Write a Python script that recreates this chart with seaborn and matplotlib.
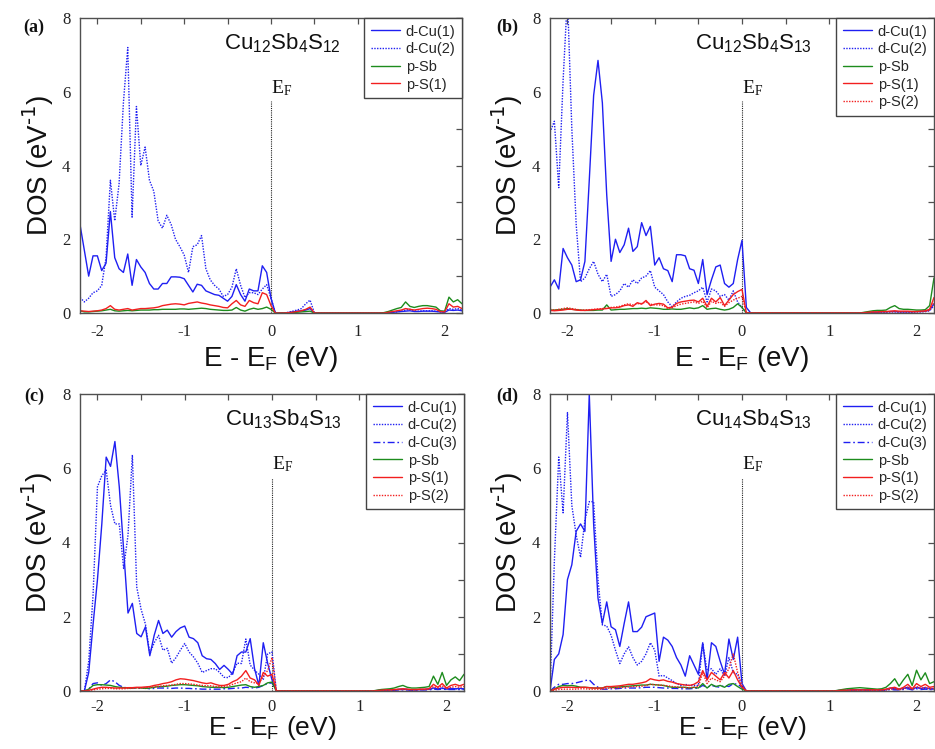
import numpy as np
import pandas as pd
import matplotlib
matplotlib.use("Agg")
import matplotlib.pyplot as plt
from matplotlib.ticker import MultipleLocator
import seaborn as sns

# Energy grid relative to the Fermi level (eV): -2.20 ... 2.20 in 0.05 steps
energy = np.round(np.arange(-2.20, 2.2001, 0.05), 2)

# ---------------- (a) Cu12Sb4S12 ----------------
a_dcu1 = [
    2.40, 1.70, 1.00, 1.55, 1.55, 1.15, 1.35, 2.75, 1.50, 1.20,
    1.10, 1.60, 0.75, 1.45, 1.25, 1.10, 0.80, 0.65, 0.65, 0.80,
    0.80, 0.98, 0.98, 0.97, 0.93, 0.75, 0.57, 0.78, 0.75, 0.60,
    0.55, 0.50, 0.48, 0.40, 0.32, 0.45, 0.77, 0.50, 0.32, 0.65,
    0.60, 0.60, 1.28, 1.10, 0.40, 0.00, 0.00, 0.00, 0.01, 0.03,
    0.05, 0.06, 0.08, 0.12, 0.00, 0.00, 0.00, 0.00, 0.00, 0.00,
    0.00, 0.00, 0.00, 0.00, 0.00, 0.00, 0.00, 0.00, 0.00, 0.00,
    0.00, 0.01, 0.02, 0.03, 0.04, 0.05, 0.06, 0.04, 0.04, 0.05,
    0.05, 0.05, 0.04, 0.03, 0.02, 0.08, 0.07, 0.08, 0.06,
]
a_dcu2 = [
    0.42, 0.30, 0.40, 0.55, 0.60, 0.75, 1.50, 3.60, 2.50, 3.50,
    5.70, 7.20, 2.60, 5.60, 4.00, 4.50, 3.60, 3.30, 2.50, 2.30,
    2.65, 2.40, 2.00, 1.80, 1.57, 1.10, 1.80, 1.85, 2.10, 1.20,
    0.90, 0.75, 0.65, 0.45, 0.50, 0.70, 1.20, 0.75, 0.42, 0.55,
    0.55, 0.50, 0.65, 0.77, 0.40, 0.00, 0.00, 0.00, 0.02, 0.05,
    0.08, 0.12, 0.25, 0.35, 0.00, 0.00, 0.00, 0.00, 0.00, 0.00,
    0.00, 0.00, 0.00, 0.00, 0.00, 0.00, 0.00, 0.00, 0.00, 0.00,
    0.00, 0.01, 0.02, 0.03, 0.05, 0.08, 0.10, 0.06, 0.05, 0.06,
    0.06, 0.06, 0.05, 0.03, 0.02, 0.12, 0.10, 0.12, 0.08,
]
a_psb = [
    0.06, 0.03, 0.03, 0.04, 0.05, 0.06, 0.08, 0.10, 0.06, 0.05,
    0.06, 0.07, 0.06, 0.07, 0.08, 0.08, 0.08, 0.09, 0.09, 0.10,
    0.10, 0.10, 0.10, 0.11, 0.11, 0.10, 0.11, 0.12, 0.13, 0.12,
    0.10, 0.09, 0.08, 0.07, 0.07, 0.08, 0.15, 0.08, 0.05, 0.10,
    0.13, 0.10, 0.12, 0.16, 0.10, 0.00, 0.00, 0.00, 0.00, 0.01,
    0.02, 0.03, 0.04, 0.05, 0.00, 0.00, 0.00, 0.00, 0.00, 0.00,
    0.00, 0.00, 0.00, 0.00, 0.00, 0.00, 0.00, 0.00, 0.00, 0.00,
    0.01, 0.04, 0.08, 0.12, 0.15, 0.30, 0.18, 0.15, 0.18, 0.20,
    0.20, 0.18, 0.16, 0.06, 0.05, 0.43, 0.30, 0.36, 0.25,
]
a_ps1 = [
    0.06, 0.05, 0.04, 0.05, 0.06, 0.08, 0.12, 0.20, 0.10, 0.08,
    0.10, 0.12, 0.08, 0.10, 0.12, 0.12, 0.13, 0.14, 0.16, 0.20,
    0.22, 0.24, 0.25, 0.24, 0.22, 0.26, 0.28, 0.30, 0.27, 0.25,
    0.22, 0.20, 0.18, 0.15, 0.14, 0.25, 0.34, 0.22, 0.18, 0.34,
    0.28, 0.25, 0.55, 0.50, 0.20, 0.00, 0.00, 0.00, 0.01, 0.02,
    0.04, 0.06, 0.10, 0.16, 0.00, 0.00, 0.00, 0.00, 0.00, 0.00,
    0.00, 0.00, 0.00, 0.00, 0.00, 0.00, 0.00, 0.00, 0.00, 0.00,
    0.00, 0.02, 0.04, 0.06, 0.08, 0.12, 0.10, 0.08, 0.10, 0.12,
    0.13, 0.12, 0.10, 0.04, 0.03, 0.25, 0.16, 0.18, 0.12,
]

# ---------------- (b) Cu12Sb4S13 ----------------
b_dcu1 = [
    0.70, 0.90, 0.65, 1.75, 1.50, 1.30, 0.85, 0.90, 1.40, 3.60,
    5.90, 6.85, 5.70, 3.20, 1.40, 2.00, 1.64, 1.85, 2.30, 1.67,
    1.80, 2.45, 2.10, 2.35, 1.30, 1.50, 1.20, 1.15, 0.85, 1.58,
    1.58, 1.55, 1.20, 1.16, 0.80, 1.45, 0.50, 0.90, 1.25, 1.30,
    0.80, 0.70, 0.80, 1.45, 1.97, 0.15, 0.00, 0.00, 0.00, 0.00,
    0.00, 0.00, 0.00, 0.00, 0.00, 0.00, 0.00, 0.00, 0.00, 0.00,
    0.00, 0.00, 0.00, 0.00, 0.00, 0.00, 0.00, 0.00, 0.00, 0.00,
    0.00, 0.00, 0.00, 0.01, 0.02, 0.02, 0.03, 0.03, 0.04, 0.04,
    0.03, 0.03, 0.03, 0.03, 0.04, 0.04, 0.05, 0.08, 0.25,
]
b_dcu2 = [
    4.90, 5.20, 3.40, 6.30, 8.60, 5.00, 2.40, 0.85, 0.95, 1.20,
    1.40, 1.05, 0.85, 1.05, 0.45, 0.50, 0.60, 0.80, 0.70, 0.90,
    0.80, 0.95, 1.00, 1.15, 0.70, 0.60, 0.50, 0.30, 0.17, 0.30,
    0.40, 0.45, 0.48, 0.55, 0.60, 0.70, 0.30, 0.65, 0.60, 0.45,
    0.50, 0.35, 0.60, 0.30, 0.15, 0.00, 0.00, 0.00, 0.00, 0.00,
    0.00, 0.00, 0.00, 0.00, 0.00, 0.00, 0.00, 0.00, 0.00, 0.00,
    0.00, 0.00, 0.00, 0.00, 0.00, 0.00, 0.00, 0.00, 0.00, 0.00,
    0.00, 0.00, 0.00, 0.01, 0.01, 0.01, 0.02, 0.02, 0.03, 0.03,
    0.02, 0.02, 0.02, 0.02, 0.03, 0.03, 0.04, 0.06, 0.20,
]
b_psb = [
    0.08, 0.08, 0.09, 0.10, 0.12, 0.10, 0.09, 0.08, 0.07, 0.07,
    0.07, 0.08, 0.08, 0.22, 0.08, 0.09, 0.10, 0.10, 0.11, 0.12,
    0.12, 0.13, 0.12, 0.14, 0.13, 0.12, 0.10, 0.10, 0.11, 0.10,
    0.10, 0.12, 0.14, 0.12, 0.14, 0.20, 0.10, 0.12, 0.13, 0.10,
    0.08, 0.10, 0.15, 0.25, 0.15, 0.00, 0.00, 0.00, 0.00, 0.00,
    0.00, 0.00, 0.00, 0.00, 0.00, 0.00, 0.00, 0.00, 0.00, 0.00,
    0.00, 0.00, 0.00, 0.00, 0.00, 0.00, 0.00, 0.00, 0.00, 0.00,
    0.00, 0.00, 0.02, 0.04, 0.06, 0.07, 0.07, 0.08, 0.15, 0.20,
    0.12, 0.10, 0.10, 0.09, 0.08, 0.08, 0.09, 0.20, 0.95,
]
b_ps1 = [
    0.07, 0.06, 0.07, 0.08, 0.10, 0.10, 0.08, 0.07, 0.07, 0.08,
    0.09, 0.10, 0.11, 0.12, 0.14, 0.14, 0.16, 0.20, 0.22, 0.18,
    0.28, 0.24, 0.34, 0.20, 0.24, 0.26, 0.24, 0.14, 0.16, 0.26,
    0.30, 0.32, 0.34, 0.35, 0.30, 0.40, 0.18, 0.40, 0.30, 0.42,
    0.20, 0.35, 0.50, 0.58, 0.64, 0.00, 0.00, 0.00, 0.00, 0.00,
    0.00, 0.00, 0.00, 0.00, 0.00, 0.00, 0.00, 0.00, 0.00, 0.00,
    0.00, 0.00, 0.00, 0.00, 0.00, 0.00, 0.00, 0.00, 0.00, 0.00,
    0.00, 0.00, 0.01, 0.02, 0.03, 0.03, 0.04, 0.04, 0.05, 0.06,
    0.05, 0.05, 0.05, 0.04, 0.04, 0.05, 0.06, 0.10, 0.42,
]
b_ps2 = [
    0.10, 0.08, 0.10, 0.12, 0.14, 0.12, 0.10, 0.08, 0.08, 0.09,
    0.10, 0.11, 0.12, 0.13, 0.15, 0.16, 0.18, 0.22, 0.25, 0.22,
    0.25, 0.26, 0.30, 0.24, 0.22, 0.22, 0.20, 0.12, 0.14, 0.20,
    0.24, 0.26, 0.28, 0.30, 0.26, 0.32, 0.14, 0.32, 0.26, 0.30,
    0.18, 0.28, 0.35, 0.40, 0.45, 0.00, 0.00, 0.00, 0.00, 0.00,
    0.00, 0.00, 0.00, 0.00, 0.00, 0.00, 0.00, 0.00, 0.00, 0.00,
    0.00, 0.00, 0.00, 0.00, 0.00, 0.00, 0.00, 0.00, 0.00, 0.00,
    0.00, 0.00, 0.00, 0.01, 0.02, 0.02, 0.03, 0.03, 0.03, 0.04,
    0.03, 0.03, 0.03, 0.03, 0.03, 0.04, 0.04, 0.07, 0.30,
]

# ---------------- (c) Cu13Sb4S13 ----------------
c_dcu1 = [
    0.00, 0.00, 0.50, 1.80, 3.00, 4.50, 6.30, 6.05, 6.72, 5.50,
    3.80, 2.10, 2.36, 1.55, 1.46, 1.73, 0.95, 1.50, 1.90, 1.55,
    1.64, 1.45, 1.60, 1.70, 1.75, 1.45, 1.41, 1.30, 0.95, 0.87,
    0.85, 0.74, 0.58, 0.69, 0.58, 0.45, 0.95, 1.05, 1.05, 1.41,
    0.60, 0.15, 1.30, 0.75, 0.30, 0.00, 0.00, 0.00, 0.00, 0.00,
    0.00, 0.00, 0.00, 0.00, 0.00, 0.00, 0.00, 0.00, 0.00, 0.00,
    0.00, 0.00, 0.00, 0.00, 0.00, 0.00, 0.00, 0.00, 0.01, 0.02,
    0.02, 0.03, 0.03, 0.04, 0.05, 0.04, 0.03, 0.03, 0.04, 0.04,
    0.05, 0.08, 0.06, 0.08, 0.05, 0.07, 0.06, 0.07, 0.06,
]
c_dcu2 = [
    0.00, 0.00, 0.80, 2.60, 5.50, 5.80, 5.95, 5.00, 4.50, 4.50,
    3.30, 4.20, 6.36, 2.80, 2.20, 1.80, 1.00, 1.30, 1.50, 1.10,
    1.15, 0.75, 0.90, 1.10, 1.28, 1.05, 0.92, 0.75, 0.50, 0.55,
    0.60, 0.60, 0.50, 0.37, 0.36, 0.50, 0.75, 0.74, 1.40, 0.70,
    0.56, 0.45, 0.30, 1.00, 1.05, 0.00, 0.00, 0.00, 0.00, 0.00,
    0.00, 0.00, 0.00, 0.00, 0.00, 0.00, 0.00, 0.00, 0.00, 0.00,
    0.00, 0.00, 0.00, 0.00, 0.00, 0.00, 0.00, 0.00, 0.01, 0.02,
    0.02, 0.03, 0.03, 0.04, 0.04, 0.04, 0.03, 0.03, 0.04, 0.04,
    0.05, 0.07, 0.05, 0.07, 0.05, 0.06, 0.06, 0.06, 0.06,
]
c_dcu3 = [
    0.00, 0.00, 0.05, 0.20, 0.22, 0.15, 0.20, 0.30, 0.25, 0.15,
    0.10, 0.08, 0.08, 0.08, 0.07, 0.08, 0.06, 0.07, 0.08, 0.08,
    0.08, 0.07, 0.08, 0.08, 0.07, 0.07, 0.06, 0.06, 0.05, 0.05,
    0.05, 0.05, 0.05, 0.06, 0.06, 0.07, 0.08, 0.08, 0.10, 0.09,
    0.08, 0.10, 0.15, 0.20, 0.22, 0.00, 0.00, 0.00, 0.00, 0.00,
    0.00, 0.00, 0.00, 0.00, 0.00, 0.00, 0.00, 0.00, 0.00, 0.00,
    0.00, 0.00, 0.00, 0.00, 0.00, 0.00, 0.00, 0.00, 0.01, 0.01,
    0.02, 0.02, 0.02, 0.03, 0.03, 0.03, 0.02, 0.02, 0.03, 0.03,
    0.03, 0.05, 0.04, 0.05, 0.04, 0.04, 0.04, 0.04, 0.04,
]
c_psb = [
    0.00, 0.00, 0.05, 0.15, 0.17, 0.17, 0.16, 0.15, 0.12, 0.10,
    0.09, 0.08, 0.08, 0.09, 0.08, 0.07, 0.08, 0.10, 0.12, 0.12,
    0.13, 0.15, 0.16, 0.17, 0.17, 0.16, 0.15, 0.14, 0.12, 0.11,
    0.10, 0.10, 0.10, 0.09, 0.10, 0.12, 0.14, 0.16, 0.17, 0.12,
    0.10, 0.12, 0.15, 0.22, 0.24, 0.00, 0.00, 0.00, 0.00, 0.00,
    0.00, 0.00, 0.00, 0.00, 0.00, 0.00, 0.00, 0.00, 0.00, 0.00,
    0.00, 0.00, 0.00, 0.00, 0.00, 0.00, 0.00, 0.00, 0.02, 0.04,
    0.05, 0.06, 0.08, 0.12, 0.15, 0.10, 0.08, 0.08, 0.09, 0.10,
    0.12, 0.40, 0.18, 0.50, 0.15, 0.30, 0.38, 0.28, 0.45,
]
c_ps1 = [
    0.00, 0.00, 0.02, 0.05, 0.08, 0.10, 0.10, 0.09, 0.08, 0.08,
    0.08, 0.09, 0.09, 0.10, 0.10, 0.11, 0.12, 0.15, 0.17, 0.20,
    0.22, 0.25, 0.30, 0.33, 0.32, 0.30, 0.28, 0.25, 0.22, 0.20,
    0.22, 0.18, 0.15, 0.15, 0.18, 0.25, 0.30, 0.40, 0.55, 0.35,
    0.30, 0.15, 0.50, 0.40, 0.45, 0.00, 0.00, 0.00, 0.00, 0.00,
    0.00, 0.00, 0.00, 0.00, 0.00, 0.00, 0.00, 0.00, 0.00, 0.00,
    0.00, 0.00, 0.00, 0.00, 0.00, 0.00, 0.00, 0.00, 0.01, 0.02,
    0.03, 0.03, 0.04, 0.05, 0.06, 0.05, 0.04, 0.04, 0.05, 0.05,
    0.06, 0.18, 0.10, 0.20, 0.08, 0.15, 0.18, 0.14, 0.18,
]
c_ps2 = [
    0.00, 0.00, 0.01, 0.03, 0.05, 0.06, 0.07, 0.07, 0.06, 0.06,
    0.06, 0.07, 0.07, 0.08, 0.08, 0.09, 0.10, 0.11, 0.12, 0.14,
    0.15, 0.16, 0.18, 0.20, 0.20, 0.19, 0.18, 0.16, 0.15, 0.14,
    0.14, 0.12, 0.11, 0.12, 0.14, 0.18, 0.22, 0.25, 0.35, 0.25,
    0.22, 0.20, 0.40, 0.55, 0.90, 0.00, 0.00, 0.00, 0.00, 0.00,
    0.00, 0.00, 0.00, 0.00, 0.00, 0.00, 0.00, 0.00, 0.00, 0.00,
    0.00, 0.00, 0.00, 0.00, 0.00, 0.00, 0.00, 0.00, 0.01, 0.01,
    0.02, 0.02, 0.03, 0.04, 0.04, 0.04, 0.03, 0.03, 0.04, 0.04,
    0.05, 0.12, 0.08, 0.14, 0.06, 0.10, 0.12, 0.10, 0.12,
]

# ---------------- (d) Cu14Sb4S13 ----------------
d_dcu1 = [
    0.00, 0.85, 1.00, 1.52, 3.00, 3.40, 4.30, 4.50, 4.30, 8.00,
    4.50, 2.50, 1.82, 2.40, 1.73, 1.65, 1.20, 1.82, 2.40, 1.60,
    1.60, 1.72, 2.00, 2.05, 2.10, 0.80, 1.45, 1.37, 1.20, 0.90,
    0.70, 0.40, 0.95, 0.70, 0.45, 1.30, 0.30, 1.30, 1.20, 0.80,
    0.45, 1.40, 0.85, 1.45, 0.20, 0.00, 0.00, 0.00, 0.00, 0.00,
    0.00, 0.00, 0.00, 0.00, 0.00, 0.00, 0.00, 0.00, 0.00, 0.00,
    0.00, 0.00, 0.00, 0.00, 0.00, 0.00, 0.01, 0.02, 0.02, 0.03,
    0.03, 0.03, 0.03, 0.03, 0.03, 0.03, 0.03, 0.04, 0.08, 0.06,
    0.05, 0.07, 0.10, 0.05, 0.10, 0.07, 0.09, 0.06, 0.06,
]
d_dcu2 = [
    0.00, 3.50, 6.30, 4.80, 7.50, 5.00, 4.20, 3.60, 4.60, 5.10,
    5.10, 3.00, 1.78, 1.75, 1.50, 1.10, 0.74, 1.00, 1.19, 0.90,
    0.70, 0.80, 1.00, 1.30, 1.10, 0.40, 0.42, 0.35, 0.28, 0.20,
    0.15, 0.18, 0.15, 0.15, 0.15, 1.28, 0.55, 0.60, 0.45, 0.60,
    0.40, 0.90, 0.50, 0.45, 0.10, 0.00, 0.00, 0.00, 0.00, 0.00,
    0.00, 0.00, 0.00, 0.00, 0.00, 0.00, 0.00, 0.00, 0.00, 0.00,
    0.00, 0.00, 0.00, 0.00, 0.00, 0.00, 0.01, 0.01, 0.02, 0.02,
    0.02, 0.02, 0.02, 0.02, 0.02, 0.02, 0.02, 0.03, 0.06, 0.05,
    0.04, 0.06, 0.08, 0.04, 0.08, 0.06, 0.07, 0.05, 0.05,
]
d_dcu3 = [
    0.00, 0.10, 0.18, 0.18, 0.20, 0.20, 0.22, 0.25, 0.28, 0.30,
    0.18, 0.10, 0.05, 0.05, 0.06, 0.06, 0.07, 0.08, 0.08, 0.08,
    0.08, 0.09, 0.10, 0.10, 0.10, 0.09, 0.08, 0.08, 0.07, 0.07,
    0.06, 0.06, 0.06, 0.07, 0.08, 0.15, 0.10, 0.15, 0.12, 0.10,
    0.15, 0.12, 0.20, 0.18, 0.10, 0.00, 0.00, 0.00, 0.00, 0.00,
    0.00, 0.00, 0.00, 0.00, 0.00, 0.00, 0.00, 0.00, 0.00, 0.00,
    0.00, 0.00, 0.00, 0.00, 0.00, 0.00, 0.01, 0.01, 0.01, 0.02,
    0.02, 0.02, 0.02, 0.02, 0.02, 0.02, 0.02, 0.02, 0.04, 0.03,
    0.03, 0.04, 0.06, 0.03, 0.06, 0.04, 0.05, 0.04, 0.04,
]
d_psb = [
    0.00, 0.05, 0.12, 0.15, 0.14, 0.15, 0.13, 0.10, 0.10, 0.09,
    0.08, 0.08, 0.08, 0.12, 0.10, 0.10, 0.11, 0.12, 0.13, 0.14,
    0.15, 0.16, 0.16, 0.18, 0.17, 0.16, 0.15, 0.12, 0.10, 0.10,
    0.10, 0.10, 0.08, 0.10, 0.08, 0.20, 0.08, 0.18, 0.12, 0.15,
    0.10, 0.18, 0.20, 0.12, 0.05, 0.00, 0.00, 0.00, 0.00, 0.00,
    0.00, 0.00, 0.00, 0.00, 0.00, 0.00, 0.00, 0.00, 0.00, 0.00,
    0.00, 0.00, 0.00, 0.00, 0.00, 0.00, 0.02, 0.04, 0.06, 0.07,
    0.08, 0.09, 0.08, 0.07, 0.06, 0.05, 0.06, 0.10, 0.20, 0.33,
    0.13, 0.30, 0.45, 0.15, 0.56, 0.30, 0.49, 0.20, 0.25,
]
d_ps1 = [
    0.00, 0.05, 0.08, 0.10, 0.10, 0.10, 0.09, 0.10, 0.10, 0.09,
    0.08, 0.08, 0.08, 0.12, 0.12, 0.13, 0.14, 0.16, 0.18, 0.18,
    0.20, 0.22, 0.25, 0.33, 0.30, 0.28, 0.30, 0.26, 0.24, 0.20,
    0.18, 0.16, 0.15, 0.18, 0.25, 0.55, 0.30, 0.50, 0.40, 0.30,
    0.50, 0.35, 0.55, 0.30, 0.10, 0.00, 0.00, 0.00, 0.00, 0.00,
    0.00, 0.00, 0.00, 0.00, 0.00, 0.00, 0.00, 0.00, 0.00, 0.00,
    0.00, 0.00, 0.00, 0.00, 0.00, 0.00, 0.01, 0.02, 0.02, 0.03,
    0.03, 0.03, 0.03, 0.03, 0.03, 0.03, 0.03, 0.05, 0.08, 0.10,
    0.05, 0.10, 0.18, 0.06, 0.20, 0.12, 0.18, 0.10, 0.12,
]
d_ps2 = [
    0.00, 0.02, 0.04, 0.05, 0.05, 0.05, 0.05, 0.06, 0.06, 0.05,
    0.05, 0.05, 0.05, 0.07, 0.08, 0.08, 0.09, 0.10, 0.11, 0.12,
    0.12, 0.13, 0.15, 0.18, 0.17, 0.16, 0.15, 0.14, 0.12, 0.11,
    0.10, 0.09, 0.09, 0.10, 0.12, 0.50, 0.20, 0.35, 0.30, 0.25,
    0.40, 0.60, 1.00, 0.50, 0.15, 0.00, 0.00, 0.00, 0.00, 0.00,
    0.00, 0.00, 0.00, 0.00, 0.00, 0.00, 0.00, 0.00, 0.00, 0.00,
    0.00, 0.00, 0.00, 0.00, 0.00, 0.00, 0.01, 0.01, 0.01, 0.02,
    0.02, 0.02, 0.02, 0.02, 0.02, 0.02, 0.02, 0.03, 0.05, 0.06,
    0.03, 0.06, 0.10, 0.04, 0.12, 0.07, 0.10, 0.06, 0.07,
]

panel_tags = ["(a)", "(b)", "(c)", "(d)"]
formulas = [
    "Cu$_{12}$Sb$_{4}$S$_{12}$",
    "Cu$_{12}$Sb$_{4}$S$_{13}$",
    "Cu$_{13}$Sb$_{4}$S$_{13}$",
    "Cu$_{14}$Sb$_{4}$S$_{13}$",
]
panel_series = [
    [("d-Cu(1)", a_dcu1), ("d-Cu(2)", a_dcu2), ("p-Sb", a_psb), ("p-S(1)", a_ps1)],
    [("d-Cu(1)", b_dcu1), ("d-Cu(2)", b_dcu2), ("p-Sb", b_psb), ("p-S(1)", b_ps1),
     ("p-S(2)", b_ps2)],
    [("d-Cu(1)", c_dcu1), ("d-Cu(2)", c_dcu2), ("d-Cu(3)", c_dcu3), ("p-Sb", c_psb),
     ("p-S(1)", c_ps1), ("p-S(2)", c_ps2)],
    [("d-Cu(1)", d_dcu1), ("d-Cu(2)", d_dcu2), ("d-Cu(3)", d_dcu3), ("p-Sb", d_psb),
     ("p-S(1)", d_ps1), ("p-S(2)", d_ps2)],
]
ef_line_top = 5.75

# ---------------- styling ----------------
sns.set_style("white")
plt.rcParams.update({
    "font.family": ["Liberation Sans", "DejaVu Sans"],
    "mathtext.default": "regular",
    "axes.unicode_minus": False,
})

BLUE = "#1f1ff2"
GREEN = "#1d8c1d"
RED = "#f21f1f"
SPINE = "#505050"
line_style = {
    "d-Cu(1)": (BLUE, "-"),
    "d-Cu(2)": (BLUE, (0, (1, 1))),
    "d-Cu(3)": (BLUE, (0, (5, 2, 1.2, 2))),
    "p-Sb": (GREEN, "-"),
    "p-S(1)": (RED, "-"),
    "p-S(2)": (RED, (0, (1, 1))),
}

W, H = 935, 749
fig = plt.figure(figsize=(W / 100, H / 100), dpi=100)

# axes boxes in pixels: left, top, right, bottom
boxes = [(80, 18, 462, 313), (550, 18, 934, 313),
         (80, 394, 464, 691), (550, 394, 934, 691)]
tag_pos = [(34, 27), (507, 27), (34, 396), (507, 396)]
xlabel_y = [-0.105, -0.105, -0.076, -0.076]
xlabel_size = [20, 20, 19, 19]

for i, (l, t, r, b) in enumerate(boxes):
    ax = fig.add_axes([l / W, 1 - b / H, (r - l) / W, (b - t) / H])
    for name, vals in panel_series[i]:
        color, ls = line_style[name]
        sns.lineplot(x=energy, y=vals, ax=ax, color=color, linestyle=ls,
                     linewidth=1.0, label=name, estimator=None, errorbar=None,
                     sort=False)

    ax.vlines(0.0, 0.0, ef_line_top, colors="#222222", linestyles=(0, (1, 1)),
              linewidth=0.8, zorder=1)
    ax.text(0.0, 5.97, "E$_{F}$", family="Liberation Serif", fontsize=14,
            ha="left", va="baseline", color="#111111")
    ax.text(0.531, 0.915, formulas[i], transform=ax.transAxes, fontsize=16,
            ha="center", va="center", color="#111111")

    ax.set_xlim(-2.2, 2.2)
    ax.set_ylim(0, 8)
    ax.xaxis.set_major_locator(MultipleLocator(1))
    ax.xaxis.set_minor_locator(MultipleLocator(0.5))
    ax.yaxis.set_major_locator(MultipleLocator(2))
    ax.yaxis.set_minor_locator(MultipleLocator(1))
    ax.tick_params(which="both", direction="in", top=True, right=True,
                   length=4, width=0.9, color=SPINE)
    ax.tick_params(axis="x", which="major", pad=8 if i < 2 else 6)
    ax.tick_params(axis="y", which="major", pad=7)
    for lab in ax.get_xticklabels() + ax.get_yticklabels():
        lab.set_family("Liberation Serif")
        lab.set_fontsize(12)
        lab.set_color("#222222")
    for sp in ax.spines.values():
        sp.set_color(SPINE)
        sp.set_linewidth(1.0)

    ax.set_xlabel("E - E$_{F}$ (eV)", fontsize=xlabel_size[i], color="#111111")
    ax.set_ylabel("DOS (eV$^{\\text{-1}}$)", fontsize=20, color="#111111")
    ax.xaxis.set_label_coords(0.5, xlabel_y[i])
    ax.yaxis.set_label_coords(-0.064, 0.5)

    handles, labels = ax.get_legend_handles_labels()
    leg = ax.legend(handles, labels, loc="upper right", bbox_to_anchor=(1.0, 1.0),
                    borderaxespad=0.0, frameon=True, fancybox=False, shadow=False,
                    framealpha=1.0, edgecolor="#444444", fontsize=10.5,
                    handlelength=2.0, handletextpad=0.4, labelspacing=0.25,
                    borderpad=0.45)
    leg.get_frame().set_linewidth(1.0)

    fig.text(tag_pos[i][0] / W, 1 - tag_pos[i][1] / H, panel_tags[i],
             family="Liberation Serif", fontweight="bold", fontsize=13,
             ha="center", va="center", color="#111111")

fig.savefig("out.png", dpi=100)
